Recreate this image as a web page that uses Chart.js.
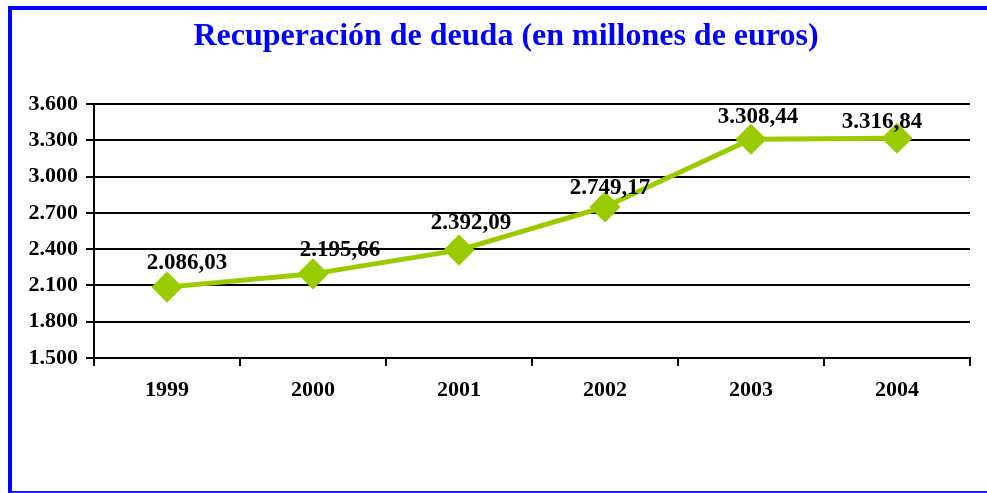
<!DOCTYPE html>
<html>
<head>
<meta charset="utf-8">
<script src="https://cdn.jsdelivr.net/npm/chart.js@4.4.1/dist/chart.umd.min.js"></script>
<style>
    body { margin: 0; background: #ffffff; }
    #frame {
        position: absolute; left: 8px; top: 6px; width: 990px; height: 481px;
        border-left: 4px solid #0000ff; border-top: 4px solid #0000ff; border-bottom: 2px solid #2020ff;
    }
    #wrap { position: absolute; left: 0; top: 0; width: 987px; height: 493px; }
</style>
</head>
<body>
<div id="frame"></div>
<div id="wrap"><canvas id="chart"></canvas></div>
<script>
const years     = ["1999", "2000", "2001", "2002", "2003", "2004"];
const recovered = [2086.03, 2195.66, 2392.09, 2749.17, 3308.44, 3316.84];
const yTicks    = [1500, 1800, 2100, 2400, 2700, 3000, 3300, 3600];
const chartTitle = "Recuperación de deuda (en millones de euros)";

// where each value label sits relative to its diamond (style only)
const labelNudge = [[20, -24], [27, -24], [12, -27], [5, -19], [7, -22], [-15, -16]];

const serif = "'Liberation Serif', 'DejaVu Serif', serif";

/**
 * Formats a number the Spanish way (dot thousands, comma decimals).
 */
function spanish(value, decimals)
{
    let parts = value.toFixed(decimals).split(".");
    parts[0] = parts[0].replace(/\B(?=(\d{3})+(?!\d))/g, ".");
    return parts.join(",");
}

// title and value labels
const extras = {
    id: "extras",
    afterDraw(chart) {
        const ctx = chart.ctx;
        const meta = chart.getDatasetMeta(0);
        ctx.save();
        ctx.textAlign = "center";
        ctx.textBaseline = "middle";

        ctx.font = "bold 32px " + serif;
        ctx.fillStyle = "#0000ff";
        ctx.fillText(chartTitle, 506, 37);

        ctx.font = "bold 23px " + serif;
        ctx.fillStyle = "#000000";
        for(let i = 0; i < meta.data.length; i++)
        {
            let pt = meta.data[i];
            ctx.fillText(spanish(recovered[i], 2), pt.x + labelNudge[i][0], pt.y + labelNudge[i][1]);
        }
        ctx.restore();
    }
};

new Chart(document.getElementById("chart"), {
    type: "line",
    data: {
        labels: years,
        datasets: [{
            data: recovered,
            borderColor: "#99cc00",
            backgroundColor: "#99cc00",
            borderWidth: 5,
            pointStyle: "rectRot",
            pointRadius: 12,
            pointHoverRadius: 12,
            tension: 0
        }]
    },
    options: {
        responsive: true,
        maintainAspectRatio: false,
        animation: false,
        layout: { padding: { top: 104, right: 13, bottom: 0, left: 0 } },
        plugins: {
            legend: { display: false },
            tooltip: { enabled: false },
            title: { display: false }
        },
        scales: {
            x: {
                offset: true,
                grid: { offset: true, drawOnChartArea: false, drawTicks: true, tickLength: 8, color: "#000000", lineWidth: 2 },
                border: { color: "#000000", width: 2 },
                ticks: { color: "#000000", padding: 11, font: { family: serif, size: 22, weight: "bold" } },
                afterFit: (scale) => { scale.height = 135; }
            },
            y: {
                min: 1500,
                max: 3600,
                afterBuildTicks: (scale) => { scale.ticks = yTicks.map(v => ({ value: v })); },
                grid: { color: "#000000", lineWidth: 2, tickLength: 8 },
                border: { color: "#000000", width: 2 },
                ticks: {
                    color: "#000000",
                    padding: 8,
                    font: { family: serif, size: 22, weight: "bold" },
                    callback: (v) => spanish(v, 0)
                },
                afterFit: (scale) => { scale.width = 94; }
            }
        }
    },
    plugins: [extras]
});
</script>
</body>
</html>
